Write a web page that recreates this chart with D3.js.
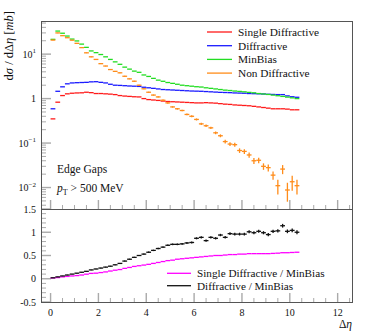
<!DOCTYPE html>
<html lang="en">
<head>
<meta charset="UTF-8">
<title>Edge Gaps</title>
<script src="https://d3js.org/d3.v7.min.js"></script>
<style>
  body { margin: 0; background: #fff; }
  text { font-family: "Liberation Serif", "DejaVu Serif", serif; fill: #111; }
</style>
</head>
<body>
<script>
// bin lower edges in delta-eta, width 0.2
const binLo = [0.0, 0.2, 0.4, 0.6, 0.8, 1.0, 1.2, 1.4, 1.6, 1.8, 2.0, 2.2, 2.4, 2.6, 2.8, 3.0, 3.2, 3.4, 3.6, 3.8,
  4.0, 4.2, 4.4, 4.6, 4.8, 5.0, 5.2, 5.4, 5.6, 5.8, 6.0, 6.2, 6.4, 6.6, 6.8, 7.0, 7.2, 7.4, 7.6, 7.8,
  8.0, 8.2, 8.4, 8.6, 8.8, 9.0, 9.2, 9.4, 9.6, 9.8, 10.0, 10.2];
const binWidth = 0.2;

const singleDiff = [0.35, 0.83, 1.17, 1.28, 1.32, 1.34, 1.35, 1.39, 1.36, 1.30, 1.30, 1.28, 1.26, 1.23, 1.17, 1.14, 1.12, 1.10, 1.09, 1.00,
  0.95, 0.93, 0.91, 0.88, 0.86, 0.85, 0.84, 0.83, 0.82, 0.81, 0.80, 0.80, 0.81, 0.80, 0.79, 0.77, 0.75, 0.74, 0.72, 0.71,
  0.70, 0.69, 0.67, 0.65, 0.63, 0.61, 0.59, 0.59, 0.59, 0.58, 0.56, 0.56];
const diffractive = [0.59, 1.46, 1.84, 2.15, 2.25, 2.28, 2.30, 2.32, 2.38, 2.40, 2.32, 2.25, 2.10, 2.00, 1.98, 1.95, 1.92, 1.90, 1.88, 1.80,
  1.75, 1.70, 1.65, 1.60, 1.58, 1.56, 1.54, 1.52, 1.50, 1.48, 1.47, 1.46, 1.44, 1.42, 1.40, 1.38, 1.37, 1.36, 1.34, 1.33,
  1.32, 1.30, 1.29, 1.28, 1.27, 1.25, 1.24, 1.23, 1.23, 1.15, 1.10, 1.07];
const minBias = [21.5, 33.0, 29.5, 25.5, 21.8, 19.8, 16.8, 14.2, 11.8, 10.8, 9.8, 8.7, 7.6, 6.7, 5.9, 5.1, 4.6, 4.15, 3.9, 3.4,
  3.15, 2.85, 2.6, 2.45, 2.3, 2.2, 2.1, 2.0, 1.95, 1.9, 1.85, 1.82, 1.75, 1.7, 1.65, 1.6, 1.55, 1.52, 1.48, 1.45,
  1.42, 1.38, 1.35, 1.30, 1.27, 1.24, 1.20, 1.16, 1.12, 1.08, 1.04, 1.00];
const nonDiff = [20.7, 30.0, 26.0, 23.4, 20.6, 17.5, 14.0, 10.7, 8.7, 7.6, 6.1, 5.4, 4.5, 4.1, 3.8, 3.18, 2.78, 2.46, 2.0, 1.66,
  1.39, 1.2, 1.09, 0.92, 0.80, 0.65, 0.59, 0.54, 0.44, 0.40, 0.34, 0.27, 0.245, 0.22, 0.17, 0.146, 0.108, 0.095, 0.092, 0.068,
  0.065, 0.054, 0.040, 0.041, 0.030, 0.028, 0.019, 0.011, 0.026, 0.0088, 0.0135, 0.011];
const nonDiffErr = [0.3, 0.4, 0.35, 0.3, 0.3, 0.25, 0.2, 0.17, 0.15, 0.13, 0.11, 0.1, 0.09, 0.08, 0.08, 0.07, 0.06, 0.06, 0.05, 0.045,
  0.04, 0.035, 0.035, 0.03, 0.03, 0.025, 0.025, 0.022, 0.02, 0.02, 0.018, 0.016, 0.015, 0.014, 0.012, 0.011, 0.01, 0.009, 0.009, 0.008,
  0.008, 0.007, 0.006, 0.006, 0.005, 0.005, 0.004, 0.004, 0.006, 0.004, 0.005, 0.004];

const ratioSD = [0.016, 0.025, 0.04, 0.05, 0.06, 0.068, 0.08, 0.098, 0.115, 0.12, 0.133, 0.147, 0.166, 0.184, 0.198, 0.223, 0.243, 0.265, 0.28, 0.294,
  0.31, 0.33, 0.35, 0.37, 0.39, 0.40, 0.42, 0.43, 0.44, 0.45, 0.46, 0.47, 0.48, 0.49, 0.50, 0.50, 0.51, 0.52, 0.52, 0.53,
  0.53, 0.54, 0.54, 0.54, 0.54, 0.54, 0.545, 0.55, 0.56, 0.56, 0.565, 0.57];
const ratioD = [0.02, 0.04, 0.06, 0.08, 0.10, 0.12, 0.14, 0.16, 0.19, 0.21, 0.23, 0.25, 0.27, 0.30, 0.33, 0.38, 0.42, 0.46, 0.50, 0.53,
  0.57, 0.61, 0.65, 0.68, 0.72, 0.74, 0.74, 0.75, 0.77, 0.78, 0.87, 0.89, 0.82, 0.89, 0.87, 0.94, 0.89, 0.97, 0.96, 0.96,
  0.96, 1.01, 0.99, 1.02, 0.99, 0.95, 1.02, 1.03, 1.14, 1.02, 1.04, 1.00];
const ratioDErr = [0.002, 0.003, 0.003, 0.004, 0.004, 0.005, 0.005, 0.006, 0.006, 0.007, 0.007, 0.008, 0.008, 0.009, 0.01, 0.01, 0.011, 0.012, 0.012, 0.013,
  0.014, 0.015, 0.015, 0.016, 0.017, 0.018, 0.018, 0.019, 0.02, 0.021, 0.022, 0.022, 0.023, 0.024, 0.025, 0.026, 0.027, 0.028, 0.029, 0.03,
  0.03, 0.031, 0.032, 0.033, 0.034, 0.035, 0.036, 0.037, 0.04, 0.04, 0.042, 0.045];

const topSeries = [
  { name: "Single Diffractive", values: singleDiff, color: "#ff1a1a" },
  { name: "Diffractive", values: diffractive, color: "#1a1aff" },
  { name: "MinBias", values: minBias, color: "#22dd22" },
  { name: "Non Diffractive", values: nonDiff, err: nonDiffErr, color: "#ff8c1a" }
];
const ratioSeries = [
  { name: "Single Diffractive / MinBias", values: ratioSD, color: "#ff00ff" },
  { name: "Diffractive / MinBias", values: ratioD, err: ratioDErr, color: "#111111" }
];

const W = 365, H = 334;
const pLeft = 41, pRight = 352, pTop = 21, pMid = 209, pBottom = 302;

const svg = d3.select("body").append("svg").attr("width", W).attr("height", H);

const x = d3.scaleLinear().domain([-0.4, 12.6]).range([pLeft, pRight]);
const yTop = d3.scaleLog().domain([0.00329, 55.6]).range([pMid, pTop]);
const yBot = d3.scaleLinear().domain([-0.5, 1.5]).range([pBottom, pMid]);

const tickCol = "#aaaaaa";

// x ticks (pointing up from the bottom of each panel)
function xTicks(yBase) {
  const g = svg.append("g");
  d3.range(0, 12.6, 0.5).forEach(v => {
    const major = Math.abs(v % 2) < 1e-6;
    g.append("line").attr("x1", x(v)).attr("x2", x(v))
      .attr("y1", yBase).attr("y2", yBase - (major ? 9 : 4))
      .attr("stroke", tickCol).attr("stroke-width", major ? 1.4 : 1);
  });
}
xTicks(pMid);
xTicks(pBottom);

// log y ticks, top panel
const gTop = svg.append("g");
[-3, -2, -1, 0, 1].forEach(e => {
  for (let m = 1; m < 10; m++) {
    const v = m * Math.pow(10, e);
    if (v < yTop.domain()[0] || v > yTop.domain()[1]) continue;
    gTop.append("line").attr("x1", pLeft).attr("x2", pLeft + (m === 1 ? 10 : 5))
      .attr("y1", yTop(v)).attr("y2", yTop(v))
      .attr("stroke", tickCol).attr("stroke-width", m === 1 ? 1.4 : 1);
  }
});
const topLabels = [{ v: 10, b: "10", s: "1" }, { v: 1, b: "1", s: "" }, { v: 0.1, b: "10", s: "\u22121" }, { v: 0.01, b: "10", s: "\u22122" }];
topLabels.forEach(t => {
  const tx = gTop.append("text").attr("x", 36).attr("y", yTop(t.v) + 3.5)
    .attr("text-anchor", "end").attr("font-size", 10);
  tx.append("tspan").text(t.b);
  if (t.s) tx.append("tspan").attr("dy", -4.5).attr("font-size", 7).text(t.s);
});

// linear y ticks, bottom panel
const gBot = svg.append("g");
d3.range(-0.5, 1.5001, 0.1).forEach(v => {
  const major = Math.abs(Math.round(v * 10) % 5) === 0;
  gBot.append("line").attr("x1", pLeft).attr("x2", pLeft + (major ? 10 : 5))
    .attr("y1", yBot(v)).attr("y2", yBot(v))
    .attr("stroke", tickCol).attr("stroke-width", major ? 1.4 : 1);
});
const botLabels = ["-0.5", "0", "0.5", "1", "1.5"];
botLabels.forEach(l => {
  gBot.append("text").attr("x", 36).attr("y", yBot(+l) + 3.5)
    .attr("text-anchor", "end").attr("font-size", 10).text(l);
});

// x tick labels
const xLabels = ["0", "2", "4", "6", "8", "10", "12"];
xLabels.forEach(l => {
  svg.append("text").attr("x", x(+l)).attr("y", 316)
    .attr("text-anchor", "middle").attr("font-size", 10).text(l);
});

// histogram crosses
function drawHist(series, y) {
  series.forEach(s => {
    const g = svg.append("g").attr("stroke", s.color).attr("stroke-width", 1.3);
    s.values.forEach((v, i) => {
      const x0 = x(binLo[i]), x1 = x(binLo[i] + binWidth), xc = x(binLo[i] + binWidth / 2);
      g.append("line").attr("x1", x0).attr("x2", x1).attr("y1", y(v)).attr("y2", y(v));
      if (s.err) {
        const lo = Math.max(v - s.err[i], y.domain()[0]);
        g.append("line").attr("x1", xc).attr("x2", xc).attr("y1", y(lo)).attr("y2", y(v + s.err[i]));
      }
    });
  });
}
drawHist(topSeries, yTop);
drawHist(ratioSeries, yBot);

// frames
svg.append("rect").attr("x", pLeft + 0.5).attr("y", pTop + 0.5)
  .attr("width", pRight - pLeft).attr("height", pMid - pTop)
  .attr("fill", "none").attr("stroke", "#555").attr("stroke-width", 1);
svg.append("rect").attr("x", pLeft + 0.5).attr("y", pMid + 0.5)
  .attr("width", pRight - pLeft).attr("height", pBottom - pMid)
  .attr("fill", "none").attr("stroke", "#555").attr("stroke-width", 1);

// legends
const legTop = svg.append("g");
topSeries.forEach((s, i) => {
  const yy = 32 + i * 13.7;
  legTop.append("line").attr("x1", 207).attr("x2", 232).attr("y1", yy).attr("y2", yy)
    .attr("stroke", s.color).attr("stroke-width", 1.3);
  legTop.append("text").attr("x", 238).attr("y", yy + 3.8).attr("font-size", 11.3).text(s.name);
});
const legBot = svg.append("g");
ratioSeries.forEach((s, i) => {
  const yy = 273.3 + i * 12.4;
  legBot.append("line").attr("x1", 167).attr("x2", 191).attr("y1", yy).attr("y2", yy)
    .attr("stroke", s.color).attr("stroke-width", 1.3);
  legBot.append("text").attr("x", 197).attr("y", yy + 3.8).attr("font-size", 11.2).text(s.name);
});

// annotations
svg.append("text").attr("x", 57).attr("y", 173).attr("font-size", 11.5).text("Edge Gaps");
const pt = svg.append("text").attr("x", 57).attr("y", 192).attr("font-size", 11.5);
pt.append("tspan").attr("font-style", "italic").text("p");
pt.append("tspan").attr("dy", 2.5).attr("font-size", 8).text("T");
pt.append("tspan").attr("dy", -2.5).text(" > 500 MeV");

// axis titles
const yl = svg.append("text").attr("transform", "translate(13,11) rotate(-90)")
  .attr("text-anchor", "end").attr("font-size", 12.5);
yl.append("tspan").text("d");
yl.append("tspan").attr("font-style", "italic").text("\u03c3");
yl.append("tspan").text(" / dΔ");
yl.append("tspan").attr("font-style", "italic").text("\u03b7");
yl.append("tspan").text(" [");
yl.append("tspan").attr("font-style", "italic").text("mb");
yl.append("tspan").text("]");

const xl = svg.append("text").attr("x", pRight).attr("y", 328).attr("text-anchor", "end").attr("font-size", 11.5);
xl.append("tspan").text("Δ");
xl.append("tspan").attr("font-style", "italic").text("\u03b7");
</script>
</body>
</html>
